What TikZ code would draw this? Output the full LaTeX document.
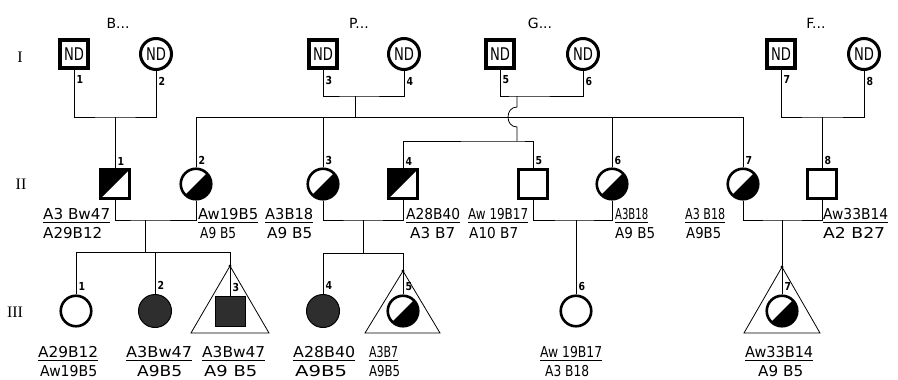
\documentclass[tikz,border=0pt]{standalone}
\usepackage{fontspec}
\usepackage{graphicx}
\setmainfont{Liberation Serif}
\setsansfont{DejaVu Sans}
\newfontfamily\ndfont[FakeStretch=0.75]{DejaVu Sans}
\newfontfamily\lblfont{DejaVu Sans}
\newfontfamily\numfont[FakeStretch=0.85]{DejaVu Sans}
\newcommand\geno[8]{%
  \node[lbl, anchor=base west] (#1t) at (#2,#3) {\resizebox{#4pt}{\height}{#5}};
  \node[lbl, anchor=base west] (#1b) at (#6,#3+19.5) {\resizebox{#7pt}{\height}{#8}};
  \draw[uline] (#2,#3+3.5) -- (#2+#4,#3+3.5);
}
\newcommand\halfcirc[1]{%
  \begin{scope}
    \clip (#1.center) circle[radius=15.3pt];
    \fill ([shift={(-20pt,-20pt)}]#1.center) -- ([shift={(20pt,-20pt)}]#1.center)
      -- ([shift={(20pt,20pt)}]#1.center) -- cycle;
  \end{scope}}
\newcommand\halfsquare[1]{%
  \fill (#1.south west) -- (#1.north west) -- (#1.north east) -- cycle;}
\begin{document}
\begin{tikzpicture}[x=1pt,y=-1pt,
  conn/.style={line width=0.8pt},
  uline/.style={line width=1.1pt},
  msqI/.style={rectangle, draw, line width=3.5pt, minimum size=28pt, inner sep=0pt,
    font=\ndfont\fontsize{17.5}{17.5}\selectfont},
  fciI/.style={circle, draw, line width=3pt, minimum size=31pt, inner sep=0pt,
    font=\ndfont\fontsize{17.5}{17.5}\selectfont},
  msq/.style={rectangle, draw, line width=2.6pt, minimum size=29pt, inner sep=0pt, fill=white},
  fci/.style={circle, draw, line width=2.6pt, minimum size=30.5pt, inner sep=0pt, fill=white},
  fillci/.style={circle, draw, line width=1pt, minimum size=33pt, inner sep=0pt, fill=black!82},
  fillsq/.style={rectangle, draw, line width=0.8pt, minimum size=30pt, inner sep=0pt, fill=black!82},
  num/.style={font=\numfont\bfseries\fontsize{11}{11}\selectfont, inner sep=0pt},
  fam/.style={font=\lblfont\fontsize{14}{14}\selectfont, inner sep=0pt},
  gen/.style={font=\rmfamily\fontsize{16}{16}\selectfont, inner sep=0pt},
  lbl/.style={font=\lblfont\fontsize{15}{15}\selectfont, inner sep=0pt},
]
\useasboundingbox[fill=white] (0,0) rectangle (898,380);

% generation labels
\node[gen] (gI) at (20,57) {I};
\node[gen] (gII) at (21,184) {II};
\node[gen] (gIII) at (15,312) {III};

% family names
\node[fam] (fB) at (118,23) {B...};
\node[fam] (fP) at (359,23) {P...};
\node[fam] (fG) at (540,23) {G...};
\node[fam] (fF) at (816,23) {F...};

% generation I
\node[msqI] (I1) at (74,54) {ND};
\node[fciI] (I2) at (156,54) {ND};
\node[msqI] (I3) at (323,54) {ND};
\node[fciI] (I4) at (404,54) {ND};
\node[msqI] (I5) at (500,54) {ND};
\node[fciI] (I6) at (583,54) {ND};
\node[msqI] (I7) at (781,54) {ND};
\node[fciI] (I8) at (864,54) {ND};
\foreach \n in {1,...,8}{
  \node[num, anchor=north west] (nI\n) at ([xshift=2.5pt,yshift=-6pt]I\n.south) {\n};
}

% generation II
\node[msq] (II1) at (115,184) {};
\node[fci] (II2) at (196,184) {};
\node[fci] (II3) at (323,184) {};
\node[msq] (II4) at (403,184) {};
\node[msq] (II5) at (533,184) {};
\node[fci] (II6) at (612,184) {};
\node[fci] (II7) at (743,184) {};
\node[msq] (II8) at (822,184) {};
\halfsquare{II1}
\halfcirc{II2}
\halfcirc{II3}
\halfsquare{II4}
\halfcirc{II6}
\halfcirc{II7}
\foreach \n in {1,...,8}{
  \node[num, anchor=south west] (nII\n) at ([xshift=2.5pt,yshift=3pt]II\n.north) {\n};
}

% junction coordinates
\coordinate (mB) at (115,117);
\coordinate (mP) at (355,96);
\coordinate (sP) at (355,117);
\coordinate (mG) at (517,96);
\coordinate (hopA) at (517,107);
\coordinate (hopB) at (517,127);
\coordinate (sG) at (517,141);
\coordinate (mF) at (822,117);

\draw[conn] (I1.south) |- (mB) -| (I2.south);
\draw[conn] (mB) -- (II1.north);
\draw[conn] (I3.south) |- (mP) -| (I4.south);
\draw[conn] (mP) -- (sP);
\draw[conn] (II2.north) |- (II7.north |- sP) -- (II7.north);
\draw[conn] (II3.north) -- (II3.north |- sP);
\draw[conn] (II6.north) -- (II6.north |- sP);
\draw[conn] (I5.south) |- (mG) -| (I6.south);
\draw[conn] (mG) -- (hopA) .. controls +(-12,0) and +(-12,0) .. (hopB) -- (sG);
\draw[conn] (II4.north) |- (sG) -| (II5.north);
\draw[conn] (I7.south) |- (mF) -| (I8.south);
\draw[conn] (mF) -- (II8.north);

% generation II marriages
\coordinate (m12) at (145,220);
\coordinate (m34) at (363,220);
\coordinate (m56) at (576,220);
\coordinate (m78) at (782,220);
\draw[conn] (II1.south) |- (m12) -| (II2.south);
\draw[conn] (II3.south) |- (m34) -| (II4.south);
\draw[conn] (II5.south) |- (m56) -| (II6.south);
\draw[conn] (II7.south) |- (m78) -| (II8.south);

% generation III
\coordinate (s12) at (145,252);
\coordinate (s34) at (363,253);
\coordinate (T3) at (230,266);
\coordinate (T3l) at (191,333);
\coordinate (T3r) at (269,333);
\coordinate (T5) at (403,271);
\coordinate (T5l) at (365,333);
\coordinate (T5r) at (440,333);
\coordinate (T7) at (782,267);
\coordinate (T7l) at (744,333);
\coordinate (T7r) at (820,333);

\node[fci] (III1) at (76,311) {};
\node[fillci] (III2) at (155,311) {};
\node[fillsq] (III3) at (230,311) {};
\node[fillci] (III4) at (323,311) {};
\node[fci] (III5) at (403,311) {};
\node[fci] (III6) at (576,311) {};
\node[fci] (III7) at (782,311) {};
\halfcirc{III5}
\halfcirc{III7}

\draw[conn] (m12) -- (s12);
\draw[conn] (III1.north) |- (T3 |- s12) -- (T3);
\draw[conn] (III2.north) -- (III2.north |- s12);
\draw[conn] (T3) -- (T3l) -- (T3r) -- cycle;
\draw[conn] (T3) -- (III3.north);
\fill (T3) circle (1.6);

\draw[conn] (m34) -- (s34);
\draw[conn] (III4.north) |- (T5 |- s34) -- (T5);
\draw[conn] (T5) -- (T5l) -- (T5r) -- cycle;
\draw[conn] (T5) -- (III5.north);
\fill (T5) circle (1.6);

\draw[conn] (m56) -- (III6.north);

\draw[conn] (m78) -- (T7);
\draw[conn] (T7) -- (T7l) -- (T7r) -- cycle;
\draw[conn] (T7) -- (III7.north);
\fill (T7) circle (1.6);

\foreach \n in {1,...,7}{
  \node[num, anchor=south west] (nIII\n) at ([xshift=2.5pt,yshift=4pt]III\n.north) {\n};
}

% genotype labels, generation II
\geno{L1}{43}{219}{67}{A3 Bw47}{43}{59}{A29B12}
\geno{L2}{198}{219}{60}{Aw19B5}{200}{36}{A9 B5}
\geno{L3}{265}{219}{48}{A3B18}{267}{45}{A9 B5}
\geno{L4}{406}{219}{54}{A28B40}{410}{45}{A3 B7}
\geno{L5}{468}{219}{60}{Aw 19B17}{469}{49}{A10 B7}
\geno{L6}{615}{219}{33}{A3B18}{615}{40}{A9 B5}
\geno{L7}{685}{219}{40}{A3 B18}{686}{35}{A9B5}
\geno{L8}{823}{219}{65}{Aw33B14}{823}{62}{A2 B27}

% genotype labels, generation III
\geno{M1}{38}{357}{60}{A29B12}{40}{57}{Aw19B5}
\geno{M2}{126}{357}{66}{A3Bw47}{137}{45}{A9B5}
\geno{M3}{202}{357}{63}{A3Bw47}{204}{53}{A9 B5}
\geno{M4}{293}{357}{62}{A28B40}{295}{52}{A9B5}
\geno{M5}{369}{357}{29}{A3B7}{369}{31}{A9B5}
\geno{M6}{540}{357}{62}{Aw 19B17}{545}{44}{A3 B18}
\geno{M7}{745}{357}{68}{Aw33B14}{758}{45}{A9 B5}
\end{tikzpicture}
\end{document}
